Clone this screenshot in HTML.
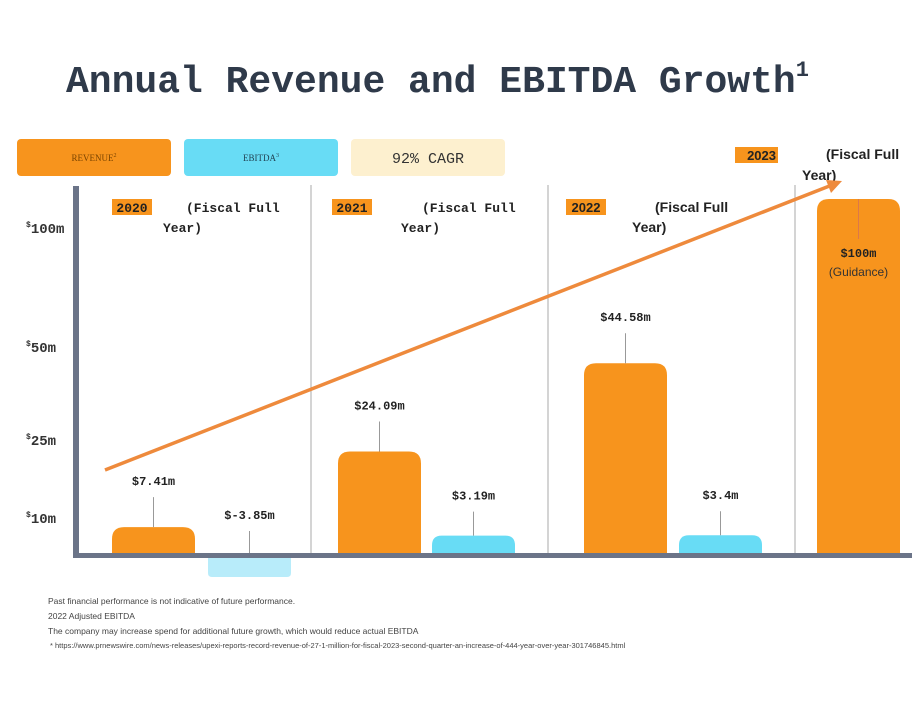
<!DOCTYPE html>
<html><head><meta charset="utf-8"><style>
body{margin:0;width:912px;height:716px;background:#fff;overflow:hidden;font-family:"Liberation Mono",monospace}
svg{position:absolute;left:0;top:0}
</style></head><body>
<svg id="c" width="912" height="716" xmlns="http://www.w3.org/2000/svg">
<text x="66" y="92" font-family="Liberation Mono" font-weight="bold" font-size="38" fill="#2f3a4a">Annual Revenue and EBITDA Growth<tspan font-size="22" dy="-16">1</tspan></text>
<g>
<rect x="17" y="139" width="154" height="37" rx="4" fill="#f7941d"/>
<text x="94" y="161" text-anchor="middle" font-family="Liberation Serif" font-size="9" fill="#7a4400">REVENUE<tspan font-size="6" dy="-4">2</tspan></text>
<rect x="184" y="139" width="154" height="37" rx="4" fill="#68dcf5"/>
<text x="261" y="161" text-anchor="middle" font-family="Liberation Serif" font-size="9" fill="#245">EBITDA<tspan font-size="6" dy="-4">3</tspan></text>
<rect x="351" y="139" width="154" height="37" rx="4" fill="#fdf0cf"/>
<text x="428" y="163" text-anchor="middle" font-family="Liberation Mono" font-size="15" fill="#333">92% CAGR</text>
</g>
<g font-size="9.5" fill="#444" font-family="Liberation Sans">
<text x="48" y="604" font-size="8.5">Past financial performance is not indicative of future performance.</text>
<text x="48" y="619" font-size="8.5">2022 Adjusted EBITDA</text>
<text x="48" y="634" font-size="8.5">The company may increase spend for additional future growth, which would reduce actual EBITDA</text>
<text x="50" y="648" font-size="7.5">* https://www.prnewswire.com/news-releases/upexi-reports-record-revenue-of-27-1-million-for-fiscal-2023-second-quarter-an-increase-of-444-year-over-year-301746845.html</text>
</g>
</svg>
<script>
const years=["2020","2021","2022","2023"];
const revenue=[7.41,24.09,44.58,100];
const ebitda=[-3.85,3.19,3.4,null];
const revLabels=["$7.41m","$24.09m","$44.58m","$100m"];
const ebLabels=["$-3.85m","$3.19m","$3.4m",""];
const tickVals=[10,25,50,100];
const tickLabels=["10m","25m","50m","100m"];
const knotV=[-10,0,3,10,25,50,100];
const knotY=[612,555,536,522,447,340,199];
function y(v){for(let i=0;i<knotV.length-1;i++){if(v<=knotV[i+1]||i==knotV.length-2){const t=(v-knotV[i])/(knotV[i+1]-knotV[i]);return knotY[i]+t*(knotY[i+1]-knotY[i]);}}}
const groupX=[76,311,548,795];
function gx(i){return groupX[i];}
const NS="http://www.w3.org/2000/svg",svg=document.getElementById('c');
function el(t,a,p){const e=document.createElementNS(NS,t);for(const k in a)e.setAttribute(k,a[k]);(p||svg).appendChild(e);return e;}
function tx(x,yy,s,a,p){const e=el('text',Object.assign({x:x,y:yy},a),p);e.textContent=s;return e;}
for(let i=1;i<4;i++){const d=el('line',{x1:gx(i),x2:gx(i),y1:185,y2:555,stroke:'#aaa','stroke-width':1});

}
const tickOff=[1,-2,12,34];
tickVals.forEach((v,i)=>{const t=el('text',{x:26,y:y(v)+tickOff[i],'font-family':'Liberation Mono','font-weight':'bold','font-size':14,fill:'#333'});


const s=el('tspan',{'font-size':8,dy:-6},t);s.textContent='$';const s2=el('tspan',{dy:6},t);s2.textContent=tickLabels[i];});
const revOff=[36,27,36,22],ebOff=[132,121,131,0],bw=83;
function bar(x,v,col,name){const y0=y(0),y1=y(v),top=Math.min(y0,y1),h=Math.abs(y1-y0),r=Math.min(12,h/2);
let d;if(v>=0)d=`M${x},${y0}V${top+r}Q${x},${top} ${x+r},${top}H${x+bw-r}Q${x+bw},${top} ${x+bw},${top+r}V${y0}Z`;
else d=`M${x},${y0}V${y0+h-4}Q${x},${y0+h} ${x+4},${y0+h}H${x+bw-4}Q${x+bw},${y0+h} ${x+bw},${y0+h-4}V${y0}Z`;
const p=el('path',{d:d,fill:col});return p;}
years.forEach((yr,i)=>{
 const rx=gx(i)+revOff[i];
 bar(rx,revenue[i],'#f7941d','bar-revenue-'+yr);
 const cx=rx+bw/2;
 if(i<3){const ly=y(revenue[i])-42;
  el('line',{x1:cx,x2:cx,y1:ly+12,y2:y(revenue[i]),stroke:'#999','stroke-width':1});
  const t=tx(cx,ly,revLabels[i],{'text-anchor':'middle','font-family':'Liberation Mono','font-weight':'bold','font-size':12,fill:'#222'});
  }
 else{el('line',{x1:cx,x2:cx,y1:y(revenue[i]),y2:y(revenue[i])+40,stroke:'#c66','stroke-width':0.6});
  const t=tx(cx,y(revenue[i])+58,revLabels[i],{'text-anchor':'middle','font-family':'Liberation Mono','font-weight':'bold','font-size':12,fill:'#222'});
  
  tx(cx,y(revenue[i])+77,'(Guidance)',{'text-anchor':'middle','font-family':'Liberation Sans','font-size':12,fill:'#333'});}
 if(ebitda[i]!==null){const ex=gx(i)+ebOff[i];
  bar(ex,ebitda[i],ebitda[i]<0?'#b8ecfa':'#68dcf5','bar-ebitda-'+yr);
  const ecx=ex+bw/2,topv=Math.max(ebitda[i],0),ly=y(topv)-36+(ebitda[i]<0?0:0);
  el('line',{x1:ecx,x2:ecx,y1:ly+12,y2:y(topv),stroke:'#999','stroke-width':1});
  const t=tx(ecx,ly,ebLabels[i],{'text-anchor':'middle','font-family':'Liberation Mono','font-weight':'bold','font-size':12,fill:'#222'});
  }
 const hx=[112,332,566,735][i],hy=[199,199,199,147][i];
 const r=el('rect',{x:hx,y:hy,width:i==3?43:40,height:16,fill:'#f7941d'});
 
 tx(hx+(i==3?41:20),hy+13,yr,{'text-anchor':i==3?'end':'middle','font-family':i>=2?'Liberation Sans':'Liberation Mono','font-weight':'bold','font-size':13,fill:'#222'});
 const f=i>=2?'Liberation Sans':'Liberation Mono';
 const p1=[[186,212],[422,212],[655,212],[826,159]][i],p2=[[163,232],[401,232],[632,232],[802,180]][i];
 tx(p1[0],p1[1],'(Fiscal Full',{'font-family':f,'font-weight':'bold','font-size':i>=2?14:13,fill:'#222'});
 tx(p2[0],p2[1],'Year)',{'font-family':f,'font-weight':'bold','font-size':i>=2?14:13,fill:'#222'});
});
const ax=el('rect',{x:73,y:186,width:6,height:372,fill:'#6b7488'});
const bl=el('rect',{x:73,y:553,width:839,height:5,fill:'#6b7488'});
const ar=el('line',{x1:105,y1:470,x2:832,y2:185,stroke:'#ee8a3c','stroke-width':3.5});
el('path',{d:'M842,181 L826,180 L831,193 Z',fill:'#ee8a3c'});
</script>
</body></html>
